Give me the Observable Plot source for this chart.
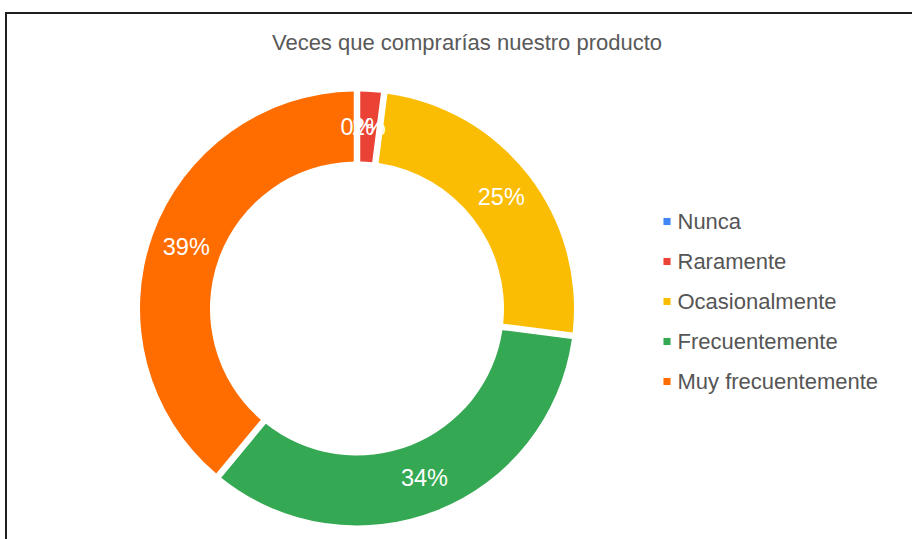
<!DOCTYPE html>
<html>
<head>
<meta charset="utf-8">
<script src="https://cdn.jsdelivr.net/npm/d3@7"></script>
<script src="https://cdn.jsdelivr.net/npm/@observablehq/plot@0.6"></script>
<style>
  html, body { margin: 0; padding: 0; background: #fff; }
  body { font-family: "Liberation Sans", Arial, sans-serif; }
  #wrap { position: relative; width: 912px; height: 539px; overflow: hidden; background: #fff; }
  #frame { position: absolute; left: 5px; top: 12px; width: 940px; height: 560px;
           border-top: 2px solid #1f1f1f; border-left: 2px solid #1f1f1f; box-sizing: border-box; }
  #title { position: absolute; left: 0; top: 32px; width: 934px; text-align: center;
           font-size: 22px; line-height: 22px; color: #595959; white-space: nowrap; }
  #chart { position: absolute; left: 0; top: 0; }
  #legend { position: absolute; left: 640px; top: 190px; }
  svg { overflow: visible; }
</style>
</head>
<body>
<div id="wrap">
  <div id="frame"></div>
  <div id="chart"></div>
  <div id="legend"></div>
  <div id="title">Veces que comprarías nuestro producto</div>
</div>
<script>
// ---- Data ----
const categorias = ["Nunca", "Raramente", "Ocasionalmente", "Frecuentemente", "Muy frecuentemente"];
const porcentajes = [0, 2, 25, 34, 39];
const colores = ["#4285F4", "#EA4335", "#FBBC04", "#34A853", "#FF6D01"];

// ---- Derived table ----
const total = d3.sum(porcentajes);
let acc = 0;
const innerRatio = 147 / 217;
const midR = (1 + innerRatio) / 2;
const slices = categorias.map((c, i) => {
  const a0 = acc / total * 2 * Math.PI;
  acc += porcentajes[i];
  const a1 = acc / total * 2 * Math.PI;
  const am = (a0 + a1) / 2;
  return {
    categoria: c, valor: porcentajes[i], a0, a1,
    lx: midR * Math.sin(am), ly: midR * Math.cos(am),
    etiqueta: porcentajes[i] + "%"
  };
});

const color = Plot.scale({color: {domain: categorias, range: colores}});

// Custom arc mark using Plot's x/y scales for center and radius
function donutMark(index, scales, values, dimensions, context) {
  const x = scales.x, y = scales.y;
  const cx = x(0), cy = y(0);
  const R = x(1) - x(0);
  const arc = d3.arc()
    .innerRadius(R * innerRatio)
    .outerRadius(R)
    .padRadius(100)
    .padAngle(0.065);
  const g = d3.create("svg:g").attr("transform", `translate(${cx},${cy})`);
  g.selectAll("path")
    .data(slices.filter(d => d.valor > 0))
    .join("path")
    .attr("d", d => arc({startAngle: d.a0, endAngle: d.a1}))
    .attr("fill", d => color.apply(d.categoria));
  return g.node();
}

const chart = Plot.plot({
  width: 912,
  height: 539,
  margin: 0,
  style: {fontFamily: '"Liberation Sans", Arial, sans-serif', background: "transparent"},
  x: {domain: [-1, 1], range: [140, 574], axis: null},
  y: {domain: [-1, 1], range: [525.5, 91.5], axis: null},
  marks: [
    donutMark,
    Plot.text(slices, {
      x: "lx", y: "ly", text: "etiqueta",
      fill: "white", fontSize: 23.5, textAnchor: "middle"
    })
  ]
});
document.getElementById("chart").appendChild(chart);

const legend = Plot.plot({
  width: 272,
  height: 220,
  margin: 0,
  style: {fontFamily: '"Liberation Sans", Arial, sans-serif', background: "transparent"},
  x: {domain: [0, 1], range: [26.5, 250], axis: null},
  y: {type: "point", domain: categorias, range: [29.5, 192.5], padding: 0, axis: null},
  color: {domain: categorias, range: colores},
  marks: [
    Plot.dot(categorias, {x: () => 0, y: d => d, fill: d => d, symbol: "square", r: 4}),
    Plot.text(categorias, {x: () => 0, y: d => d, text: d => d, dx: 10.5,
      textAnchor: "start", fill: "#555555", fontSize: 22})
  ]
});
document.getElementById("legend").appendChild(legend);
</script>
</body>
</html>
